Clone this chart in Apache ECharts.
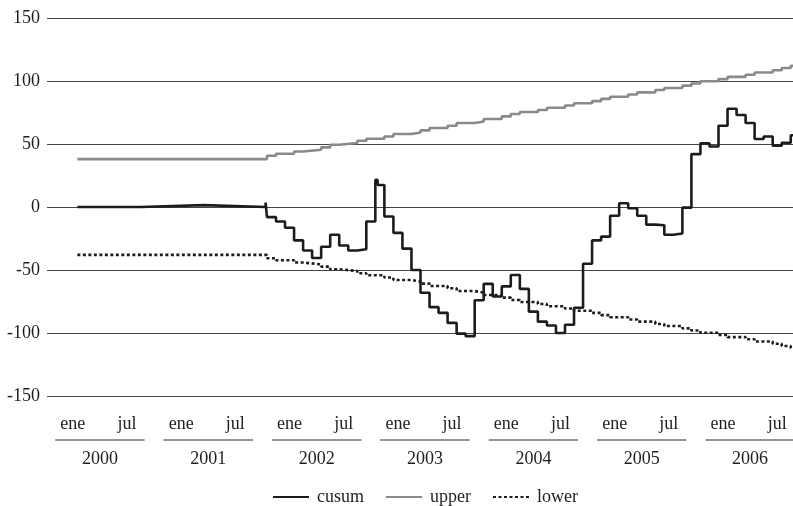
<!DOCTYPE html>
<html>
<head>
<meta charset="utf-8">
<script src="https://cdn.jsdelivr.net/npm/echarts@6/dist/echarts.min.js"></script>
<style>
  html, body { margin: 0; padding: 0; background: #ffffff; }
  #chart { width: 793px; height: 506px; }
</style>
</head>
<body>
<div id="chart"></div>
<script>
// Months are counted from the start of January 2000 (0 = start of Jan 2000).
// Each value holds from its month until the next listed month.
const cusumMonths = [1, 8, 15, 21.85, 22, 23, 24, 25, 26, 27, 28, 29, 30, 31, 32, 33, 34, 34.25,
  35, 36, 37, 38, 39, 40, 41, 42, 43, 44, 45, 46, 47, 48, 49, 50, 51, 52, 53, 54, 55, 56, 57,
  58, 59, 60, 61, 62, 63, 64, 65, 66, 67, 68, 69, 70, 71, 72, 73, 74, 75, 76, 77, 78, 79, 80];
const cusumValues = [0, 1.5, 0, 3.5, -8, -11.5, -16.5, -26.5, -34.5, -40.5, -31.5, -22, -30.5, -34.5, -33.5, -11.5, 21.5, 17.5,
  -7.5, -20.5, -33, -50, -68, -79.5, -84, -92, -100.5, -102.5, -74, -61, -71, -63, -54, -65, -83, -91, -94, -100, -93.5, -80, -45,
  -26.5, -23.5, -7, 3, -1, -7, -14, -14.5, -22, -21, -0.5, 42, 50.5, 48, 64.5, 78, 73, 66.7, 54, 56, 48.7, 51, 57];

// control limits: flat until late 2001, then widening in small steps
const boundMonths = [1, 22, 23, 25, 26, 28, 29, 30, 32, 33, 35, 36, 38, 39, 40, 42, 43, 45, 46, 48, 49, 50,
  52, 53, 55, 56, 58, 59, 60, 62, 63, 65, 66, 68, 69, 70, 72, 73, 75, 76, 78, 79, 80];
const upperValues = [38, 40.7, 42.3, 44.1, 45.5, 47.3, 49.4, 50.8, 52.6, 54.2, 56.0, 57.9, 59.2, 60.8, 62.7, 64.5, 66.7, 67.9, 69.8, 71.9, 73.8, 75.4,
  77.0, 78.8, 80.5, 82.3, 84.0, 85.8, 87.5, 89.3, 91.0, 92.8, 94.5, 96.3, 98.0, 99.8, 101.5, 103.3, 105.0, 106.8, 108.5, 110.3, 112.0];
const lowerValues = [-38, -40.7, -42.3, -44.1, -45.5, -47.3, -49.4, -50.8, -52.6, -54.2, -56.0, -57.9, -59.2, -60.8, -62.7, -64.5, -66.7, -67.9, -69.8, -71.9, -73.8, -75.4,
  -77.0, -78.8, -80.5, -82.3, -84.0, -85.8, -87.5, -89.3, -91.0, -92.8, -94.5, -96.3, -98.0, -99.8, -101.5, -103.3, -105.0, -106.8, -108.5, -110.3, -112.0];

const years = ['2000', '2001', '2002', '2003', '2004', '2005', '2006'];
const monthNames = ['ene', 'jul'];
const seriesNames = ['cusum', 'upper', 'lower'];

const X_MIN = -2.36, X_MAX = 80.25;
const FONT = 'Liberation Serif';
const TEXT = '#1e1e1e';

// step series: add a closing point so the last value runs on to the edge
function stepData(months, values) {
  const d = months.map((m, i) => [m, values[i]]);
  d.push([months[months.length - 1] + 1, values[values.length - 1]]);
  return d;
}

const monthTicks = [];
years.forEach((y, i) => { monthTicks.push(i * 12 + 0.5, i * 12 + 6.5); });
const yearTicks = years.map((y, i) => i * 12 + 3.5);

const chart = echarts.init(document.getElementById('chart'), null, { renderer: 'canvas' });

const labelAxis = (values, margin, fmt) => ({
  type: 'value', min: X_MIN, max: X_MAX, position: 'bottom', gridIndex: 0,
  axisLine: { show: false }, axisTick: { show: false }, splitLine: { show: false },
  axisLabel: {
    customValues: values, formatter: fmt, margin: margin,
    fontFamily: FONT, fontSize: 18, color: TEXT, showMinLabel: true, showMaxLabel: true
  }
});

chart.setOption({
  animation: false,
  backgroundColor: '#ffffff',
  grid: { left: 47, right: 0, top: 18, bottom: 110, containLabel: false },
  xAxis: [
    { type: 'value', min: X_MIN, max: X_MAX, show: false },
    labelAxis(monthTicks, 19, v => monthNames[Math.round(v - 0.5) % 12 === 0 ? 0 : 1]),
    labelAxis(yearTicks, 54, v => years[Math.floor(v / 12)])
  ],
  yAxis: {
    type: 'value', min: -150, max: 150, interval: 50,
    axisLine: { show: false }, axisTick: { show: false },
    splitLine: { lineStyle: { color: '#454545', width: 1 } },
    axisLabel: { fontFamily: FONT, fontSize: 18, color: TEXT, margin: 7 }
  },
  legend: {
    left: 267, top: 483, itemWidth: 36, itemHeight: 14, itemGap: 21,
    data: seriesNames,
    itemStyle: { opacity: 0 },
    textStyle: { fontFamily: FONT, fontSize: 18, color: TEXT, padding: [0, 0, 0, 3] }
  },
  series: [
    {
      name: seriesNames[0], type: 'line', step: 'end', symbol: 'none', z: 4,
      data: stepData(cusumMonths, cusumValues),
      lineStyle: { color: '#1c1c1c', width: 2.6 }, itemStyle: { color: '#1c1c1c' }
    },
    {
      name: seriesNames[1], type: 'line', step: 'end', symbol: 'none', z: 3,
      data: stepData(boundMonths, upperValues),
      lineStyle: { color: '#8a8a8a', width: 2.6 }, itemStyle: { color: '#8a8a8a' }
    },
    {
      name: seriesNames[2], type: 'line', step: 'end', symbol: 'none', z: 3,
      data: stepData(boundMonths, lowerValues),
      lineStyle: { color: '#1c1c1c', width: 2.6, type: [3, 2.5] }, itemStyle: { color: '#1c1c1c' }
    }
  ]
});

// rules under each year's month labels
const ruleY = 440;
const rules = years.map((y, i) => {
  const x1 = chart.convertToPixel({ xAxisIndex: 0 }, i * 12 - 1.45);
  const x2 = Math.min(chart.convertToPixel({ xAxisIndex: 0 }, i * 12 + 8.45), 793);
  return {
    type: 'line', silent: true,
    shape: { x1: x1, y1: ruleY, x2: x2, y2: ruleY },
    style: { stroke: '#2a2a2a', lineWidth: 1 }
  };
});
chart.setOption({ graphic: rules });
</script>
</body>
</html>
